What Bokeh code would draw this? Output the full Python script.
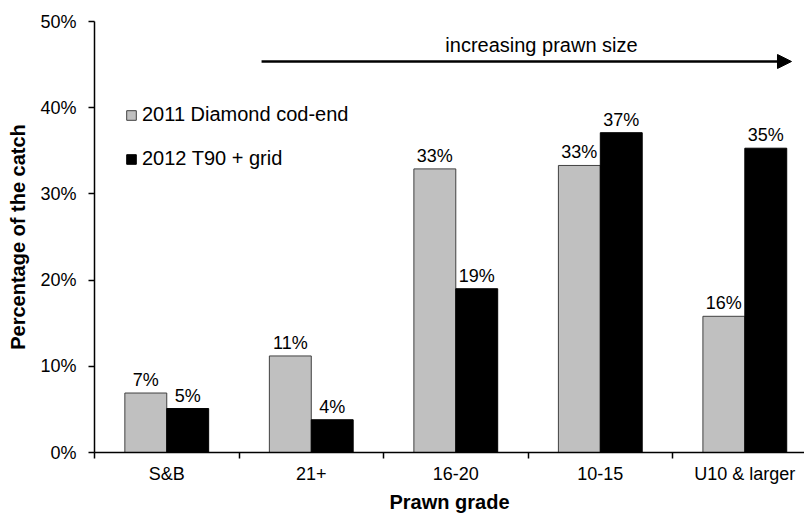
from bokeh.plotting import figure
from bokeh.models import (Range1d, FixedTicker, PrintfTickFormatter, ColumnDataSource,
                          Legend, LegendItem, Arrow, NormalHead, Label, LinearAxis)
from bokeh.transform import dodge
from bokeh.core.properties import value
from bokeh.embed import file_html
from bokeh.resources import INLINE

# ---- data ----
categories = ["S&B", "21+", "16-20", "10-15", "U10 & larger"]
diamond_2011 = [6.9, 11.2, 32.9, 33.3, 15.8]
t90_2012 = [5.1, 3.8, 19.0, 37.1, 35.3]
labels_2011 = ["7%", "11%", "33%", "33%", "16%"]
labels_2012 = ["5%", "4%", "19%", "37%", "35%"]
series_names = ["2011 Diamond cod-end", "2012 T90 + grid"]
y_ticks = [0, 10, 20, 30, 40, 50]

FONT = "Liberation Sans"
pos = [i + 0.5 for i in range(len(categories))]
src = ColumnDataSource(dict(x=pos, a=diamond_2011, b=t90_2012,
                            la=labels_2011, lb=labels_2012))

p = figure(frame_width=710, frame_height=431, output_backend="svg", toolbar_location=None,
           x_range=Range1d(0, 4.913), y_range=Range1d(0, 50),
           x_axis_type=None, y_axis_type=None,
           min_border_left=94, min_border_right=0, min_border_top=21, min_border_bottom=56)
p.outline_line_color = None
p.xgrid.visible = False
p.ygrid.visible = False
p.background_fill_color = "white"
p.border_fill_color = "white"

# y axis
yax = LinearAxis(ticker=FixedTicker(ticks=y_ticks, minor_ticks=[]),
                 formatter=PrintfTickFormatter(format="%d%%"))
yax.axis_label = "Percentage of the catch"
yax.axis_label_text_font = FONT
yax.axis_label_text_font_style = "bold"
yax.axis_label_text_font_size = "20px"
yax.axis_label_text_color = "black"
yax.axis_label_standoff = 8
yax.major_label_text_font = FONT
yax.major_label_text_font_size = "18px"
yax.major_label_text_color = "black"
yax.major_label_standoff = 12
yax.major_tick_out = 6
yax.major_tick_in = 0
yax.minor_tick_out = 0
yax.axis_line_width = 1.5
yax.major_tick_line_width = 1.5
yax.axis_line_color = "black"
p.add_layout(yax, "left")

# x axis: labels at centers, tick marks at category boundaries
xax = LinearAxis(ticker=FixedTicker(ticks=pos, minor_ticks=list(range(len(categories) + 1))))
xax.major_label_overrides = {x: c for x, c in zip(pos, categories)}
xax.axis_label = "Prawn grade"
xax.axis_label_text_font = FONT
xax.axis_label_text_font_style = "bold"
xax.axis_label_text_font_size = "20px"
xax.axis_label_text_color = "black"
xax.axis_label_standoff = 4
xax.major_label_text_font = FONT
xax.major_label_text_font_size = "18px"
xax.major_label_text_color = "black"
xax.major_label_standoff = 5
xax.major_tick_out = 0
xax.major_tick_in = 0
xax.minor_tick_out = 6
xax.minor_tick_in = 0
xax.minor_tick_line_width = 1.5
xax.minor_tick_line_color = "black"
xax.axis_line_width = 1.5
xax.axis_line_color = "black"
p.add_layout(xax, "below")

bw = 0.29
r1 = p.vbar(x=dodge("x", -bw / 2, range=p.x_range), top="a", width=bw, source=src,
            fill_color="#c0c0c0", line_color="#404040", line_width=1)
r2 = p.vbar(x=dodge("x", bw / 2, range=p.x_range), top="b", width=bw, source=src,
            fill_color="black", line_color="black", line_width=1)

p.text(x=dodge("x", -bw / 2, range=p.x_range), y="a", text="la", source=src,
       text_align="center", text_baseline="bottom", y_offset=-3,
       text_font=value(FONT), text_font_size=value("18px"), text_color="black")
p.text(x=dodge("x", bw / 2, range=p.x_range), y="b", text="lb", source=src,
       text_align="center", text_baseline="bottom", y_offset=-3,
       text_font=value(FONT), text_font_size=value("18px"), text_color="black")

legend = Legend(items=[LegendItem(label=series_names[0], renderers=[r1]),
                       LegendItem(label=series_names[1], renderers=[r2])],
                location=(31, 282), padding=0, margin=0, spacing=21,
                glyph_width=12, glyph_height=12, label_standoff=5,
                label_text_font=FONT, label_text_font_size="20px",
                label_text_color="black",
                border_line_color=None, background_fill_alpha=0)
p.add_layout(legend, "center")

p.add_layout(Arrow(end=NormalHead(size=14, fill_color="black", line_color="black"),
                   x_start=1.156, y_start=45.36, x_end=4.823, y_end=45.36,
                   line_width=2.5, line_color="black"))
p.add_layout(Label(x=3.093, y=47.33, text="increasing prawn size",
                   text_align="center", text_baseline="middle",
                   text_font=FONT, text_font_size="20px", text_color="black"))

open("out.html", "w").write(file_html(p, INLINE))
